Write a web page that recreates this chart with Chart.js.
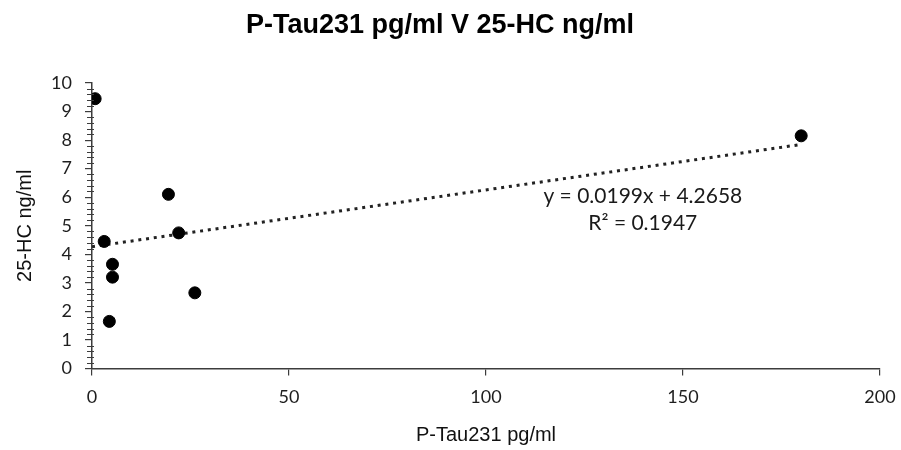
<!DOCTYPE html>
<html>
<head>
<meta charset="utf-8">
<script src="https://cdn.jsdelivr.net/npm/chart.js@4/dist/chart.umd.min.js"></script>
<style>
  html, body { margin: 0; padding: 0; background: #fff; }
  #wrap { width: 901px; height: 450px; }
</style>
</head>
<body>
<div id="wrap"><canvas id="myChart" width="901" height="450"></canvas></div>
<script>
// data
const tau231 = [0.8, 3.1, 5.2, 5.2, 4.4, 19.4, 22, 26.1, 180]
const hc25 = [9.45, 4.45, 3.65, 3.2, 1.65, 6.1, 4.75, 2.65, 8.15]
const xTicks = [0, 50, 100, 150, 200]
const yTicks = [0, 1, 2, 3, 4, 5, 6, 7, 8, 9, 10]

// trendline as printed on the chart
const slope = 0.0199
const intercept = 4.2658
const eqLines = ['y = 0.0199x + 4.2658', 'R² = 0.1947']

const axisColor = '#3c3c3c'
const tickFont = { family: 'Lato', size: 18 }

const trendX = [0, Math.max(...tau231)]
const trendData = trendX.map((x) => ({ x, y: slope * x + intercept }))

const minorTicks = {
  id: 'minorTicks',
  afterDraw (chart) {
    const { ctx, scales } = chart
    const y = scales.y
    const left = chart.chartArea.left
    ctx.save()
    ctx.strokeStyle = axisColor
    ctx.lineWidth = 1
    for (let i = 0; i <= 50; i++) {
      if (i % 5 === 0) continue
      const py = Math.round(y.getPixelForValue(i / 5)) + 0.5
      ctx.beginPath()
      ctx.moveTo(left - 5, py)
      ctx.lineTo(left + 2, py)
      ctx.stroke()
    }
    // equation label, anchored in data space
    ctx.fillStyle = '#1a1a1a'
    ctx.font = '21px Lato'
    ctx.textAlign = 'center'
    ctx.textBaseline = 'middle'
    const cx = scales.x.getPixelForValue(139.8)
    ctx.fillText(eqLines[0], cx, y.getPixelForValue(6.04))
    ctx.fillText(eqLines[1], cx, y.getPixelForValue(5.1))
    ctx.restore()
  }
}

const ctx = document.getElementById('myChart').getContext('2d')
const myChart = new Chart(ctx, {
  type: 'scatter',
  data: {
    datasets: [
      {
        label: 'points',
        data: tau231.map((x, i) => ({ x, y: hc25[i] })),
        backgroundColor: '#000',
        borderColor: '#000',
        pointRadius: 6,
        pointHoverRadius: 6
      },
      {
        label: 'trend',
        type: 'line',
        data: trendData,
        borderColor: '#222',
        borderWidth: 3,
        borderDash: [3, 4.8],
        pointRadius: 0,
        fill: false
      }
    ]
  },
  options: {
    responsive: false,
    animation: false,
    layout: { padding: { left: 0, right: 21, top: 0, bottom: 0 } },
    plugins: {
      legend: { display: false },
      tooltip: { enabled: false },
      title: {
        display: true,
        text: 'P-Tau231 pg/ml V 25-HC ng/ml',
        color: '#000',
        font: { family: 'Liberation Sans', size: 27, weight: 'bold' },
        padding: { top: 9, bottom: 41.6 }
      }
    },
    scales: {
      x: {
        type: 'linear',
        min: 0,
        max: 200,
        afterBuildTicks: (scale) => { scale.ticks = xTicks.map((v) => ({ value: v })) },
        afterFit: (scale) => {
          scale.height = 81.5
          scale.paddingLeft = 0
          scale.paddingRight = 0
        },
        ticks: { color: '#1e1e1e', font: tickFont, padding: 11 },
        grid: { display: true, drawOnChartArea: false, tickLength: 7, color: axisColor, lineWidth: 1.2 },
        border: { display: true, color: axisColor, width: 1.5 },
        title: {
          display: true,
          text: 'P-Tau231 pg/ml',
          color: '#111',
          font: { family: 'Liberation Sans', size: 20 },
          padding: { top: 0, bottom: 3 }
        }
      },
      y: {
        type: 'linear',
        min: 0,
        max: 10,
        afterBuildTicks: (scale) => { scale.ticks = yTicks.map((v) => ({ value: v })) },
        afterFit: (scale) => {
          scale.width = 92
          scale.paddingTop = 0
          scale.paddingBottom = 0
        },
        ticks: { color: '#1e1e1e', font: tickFont, padding: 13 },
        grid: { display: true, drawOnChartArea: false, tickLength: 7, color: axisColor, lineWidth: 1.2 },
        border: { display: true, color: axisColor, width: 1.5 },
        title: {
          display: true,
          text: '25-HC ng/ml',
          color: '#111',
          font: { family: 'Liberation Sans', size: 20 },
          padding: { top: 13, bottom: 0 }
        }
      }
    }
  },
  plugins: [minorTicks]
})
</script>
</body>
</html>
